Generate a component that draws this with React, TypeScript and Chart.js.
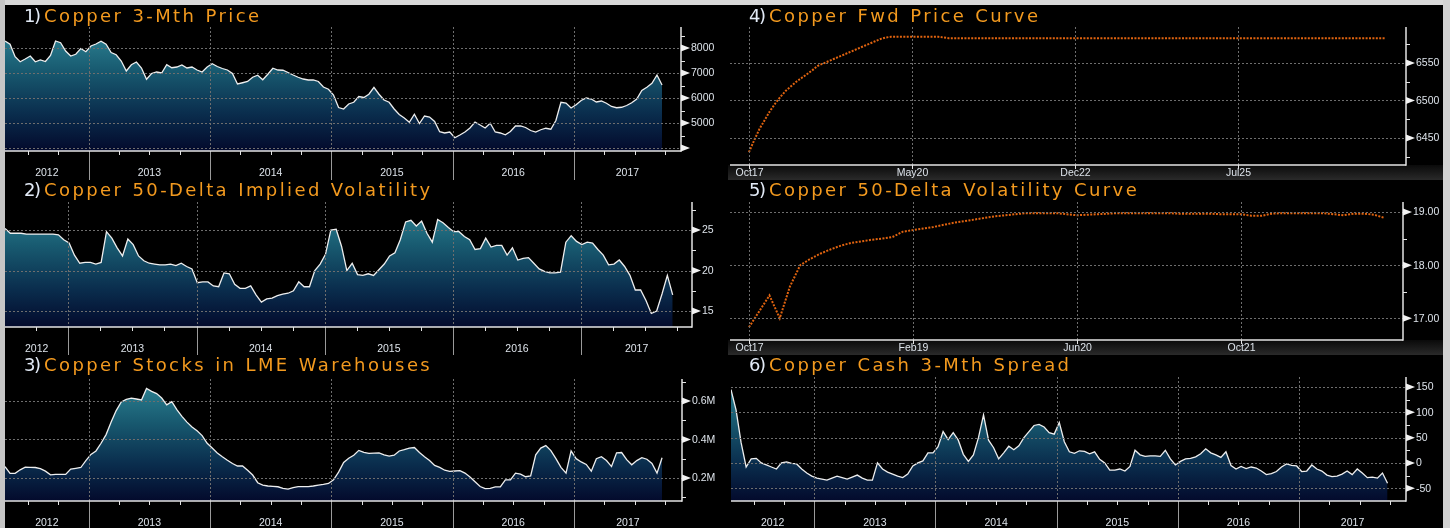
import React, { useEffect, useRef } from 'react';
import { Chart, registerables } from 'chart.js';

Chart.register(...registerables);

// ---------------- DATA ----------------
// Time-series panels: semi-monthly observations, first date given as decimal year.
const SEMI_MONTH = 1 / 24;

const yearLabels = ['2012', '2013', '2014', '2015', '2016', '2017'];

// 1) Copper 3-Mth Price (USD/t)
const priceStart = 2012.31;
const priceValues = [
  8280, 8150, 7650, 7450, 7560, 7680, 7450, 7520, 7460, 7700,
  8280, 8210, 7880, 7680, 7750, 7980, 7850, 8080, 8160, 8270,
  8150, 7820, 7730, 7480, 7080, 7330, 7440, 7200, 6750, 6980,
  7040, 7000, 7330, 7210, 7240, 7320, 7200, 7240, 7120, 7040,
  7240, 7370, 7260, 7180, 7120, 6980, 6560, 6610, 6660, 6830,
  6910, 6730, 6950, 7190, 7120, 7110, 7020, 6920, 6830, 6760,
  6720, 6720, 6660, 6440, 6350, 6120, 5620, 5560, 5760, 5830,
  6060, 6020, 6150, 6430, 6150, 5920, 5830, 5560, 5340, 5200,
  5030, 5350, 4980, 5280, 5240, 5060, 4650, 4600, 4640, 4410,
  4520, 4640, 4800, 5040, 4920, 4800, 4990, 4640, 4600, 4530,
  4660, 4880, 4880, 4820, 4700, 4640, 4730, 4790, 4750, 5100,
  5830, 5800, 5600, 5730, 5900, 6000, 5960, 5840, 5880, 5790,
  5660, 5610, 5630, 5700, 5810, 5960, 6300, 6430, 6590, 6920,
  6520,
];

// 2) Copper 50-Delta Implied Volatility (%)
const volStart = 2012.506;
const volValues = [
  25.2, 24.6, 24.6, 24.6, 24.5, 24.5, 24.5, 24.5, 24.5, 24.5,
  24.4, 23.8, 23.4, 21.9, 20.9, 21.0, 21.0, 20.8, 21.0, 24.8,
  24.0, 22.8, 21.8, 23.9, 23.2, 21.8, 21.2, 20.9, 20.8, 20.7,
  20.7, 20.8, 20.6, 20.9, 20.5, 20.2, 18.5, 18.6, 18.6, 18.1,
  18.0, 19.7, 19.6, 18.3, 17.8, 17.8, 18.1, 17.0, 16.1, 16.5,
  16.6, 16.9, 17.1, 17.2, 17.5, 18.6, 18.0, 18.0, 20.0, 20.8,
  22.0, 25.0, 25.1, 23.0, 20.0, 20.9, 19.5, 19.4, 19.6, 19.4,
  20.1, 20.8, 21.8, 22.2, 23.8, 26.0, 26.2, 25.5, 26.1, 24.6,
  23.5, 26.3, 25.9, 25.3, 24.8, 24.8, 24.2, 23.8, 22.6, 22.7,
  24.0, 22.9, 23.1, 23.1, 21.9, 22.8, 21.3, 21.5, 21.6, 20.9,
  20.2, 19.9, 19.7, 19.7, 19.8, 23.5, 24.3, 23.6, 23.2, 23.5,
  23.4, 22.6, 21.9, 20.7, 20.8, 21.3, 20.5, 19.4, 17.6, 17.6,
  16.3, 14.7, 15.0, 17.1, 19.4, 17.0,
];

// 3) Copper Stocks in LME Warehouses (million tonnes)
const stocksStart = 2012.31;
const stocksValues = [
  0.259, 0.224, 0.224, 0.242, 0.256, 0.255, 0.254, 0.248, 0.235, 0.216,
  0.218, 0.218, 0.218, 0.246, 0.250, 0.254, 0.290, 0.322, 0.340, 0.380,
  0.425, 0.490, 0.550, 0.595, 0.608, 0.615, 0.610, 0.605, 0.665, 0.650,
  0.638, 0.615, 0.580, 0.596, 0.555, 0.520, 0.490, 0.465, 0.445, 0.420,
  0.380, 0.355, 0.330, 0.310, 0.292, 0.275, 0.262, 0.262, 0.240, 0.215,
  0.175, 0.163, 0.158, 0.156, 0.154, 0.146, 0.142, 0.150, 0.155, 0.155,
  0.155, 0.158, 0.162, 0.166, 0.171, 0.190, 0.230, 0.280, 0.302, 0.318,
  0.343, 0.333, 0.328, 0.329, 0.330, 0.320, 0.313, 0.318, 0.340, 0.347,
  0.355, 0.358, 0.332, 0.310, 0.290, 0.265, 0.255, 0.240, 0.234, 0.236,
  0.238, 0.225, 0.205, 0.180, 0.155, 0.144, 0.146, 0.153, 0.153, 0.190,
  0.190, 0.225, 0.220, 0.206, 0.210, 0.320, 0.355, 0.368, 0.342, 0.300,
  0.255, 0.225, 0.340, 0.300, 0.283, 0.270, 0.235, 0.300, 0.310, 0.290,
  0.259, 0.330, 0.332, 0.295, 0.268, 0.290, 0.305, 0.297, 0.275, 0.225,
  0.305,
];

// 6) Copper Cash 3-Mth Spread (USD/t)
const spreadStart = 2012.313;
const spreadValues = [
  145, 105, 40, -8, 8, 9, 0, -4, -8, -12,
  0, 2, -1, -2, -12, -20, -26, -30, -32, -34,
  -30, -26, -29, -32, -28, -24, -30, -34, -34, 0,
  -12, -18, -22, -26, -29, -22, -6, 0, 4, 20,
  20, 32, 62, 46, 60, 45, 17, 3, 16, 50,
  95, 45, 30, 8, 20, 33, 26, 34, 50, 62,
  74, 76, 71, 60, 57, 80, 42, 22, 19, 24,
  23, 18, 22, 7, 0, -14, -14, -12, -16, -7,
  25, 16, 13, 14, 14, 13, 25, 8, -4, 3,
  8, 9, 12, 18, 28, 20, 16, 11, 22, -5,
  -12, -7, -11, -8, -10, -16, -23, -21, -17, -8,
  -2, -5, -6, -17, -16, -4, -12, -16, -24, -27,
  -26, -22, -16, -23, -12, -20, -29, -28, -30, -20,
  -40,
];

// 4) Copper Fwd Price Curve: monthly LME prompts from Oct17
const fwdTickLabels = ['Oct17', 'May20', 'Dec22', 'Jul25'];
const fwdTickMonths = [0, 31, 62, 93];
const fwdValues = [
  6431, 6447, 6462, 6474, 6486, 6496, 6505, 6513, 6519, 6525,
  6530, 6535, 6540, 6546, 6549, 6552, 6555, 6558, 6561, 6564,
  6567, 6570, 6573, 6576, 6579, 6582, 6584, 6585, 6585, 6585,
  6585, 6585, 6585, 6585, 6585, 6585, 6585, 6584, 6583, 6583,
  6583, 6583, 6583, 6583, 6583, 6583, 6583, 6583, 6583, 6583,
  6583, 6583, 6583, 6583, 6583, 6583, 6583, 6583, 6583, 6583,
  6583, 6583, 6583, 6583, 6583, 6583, 6583, 6583, 6583, 6583,
  6583, 6583, 6583, 6583, 6583, 6583, 6583, 6583, 6583, 6583,
  6583, 6583, 6583, 6583, 6583, 6583, 6583, 6583, 6583, 6583,
  6583, 6583, 6583, 6583, 6583, 6583, 6583, 6583, 6583, 6583,
  6583, 6583, 6583, 6583, 6583, 6583, 6583, 6583, 6583, 6583,
  6583, 6583, 6583, 6583, 6583, 6583, 6583, 6583, 6583, 6583,
  6583, 6583,
];

// 5) Copper 50-Delta Volatility Curve: monthly expiries from Oct17
const volCurveTickLabels = ['Oct17', 'Feb19', 'Jun20', 'Oct21'];
const volCurveTickMonths = [0, 16, 32, 48];
const volCurveValues = [
  16.83, 17.13, 17.43, 17.0, 17.6, 18.0, 18.12, 18.22, 18.3, 18.37,
  18.42, 18.45, 18.48, 18.5, 18.53, 18.63, 18.66, 18.69, 18.72, 18.76,
  18.8, 18.83, 18.86, 18.89, 18.92, 18.94, 18.96, 18.98, 18.98, 18.98,
  18.98, 18.96, 18.94, 18.95, 18.96, 18.97, 18.98, 18.98, 18.98, 18.98,
  18.98, 18.98, 18.97, 18.97, 18.97, 18.97, 18.96, 18.96, 18.96, 18.93,
  18.93, 18.97, 18.98, 18.98, 18.98, 18.98, 18.98, 18.96, 18.94, 18.97,
  18.97, 18.95, 18.89,
];

// ---------------- STYLE ----------------
const GRID = '#6e6e6e';
const AXIS = '#e4e4e4';
const LABEL = '#dde3ea';
const LONG_TICK = '#9a9a9a';
const CURVE = '#e0630f';
const LABEL_FONT = '10.5px "Liberation Sans", Arial, sans-serif';

type Box = { left: number; top: number; width: number; height: number };
type Pad = { left: number; top: number; right: number; bottom: number };
type PanelCfg = {
  key: string;
  num: string;
  title: string;
  box: Box;
  pad: Pad;
  kind: 'years' | 'months';
  xMin: number;
  xMax: number;
  yMin: number;
  yMax: number;
  yMajors: number[];
  yLabeled: number[];
  yMinors: number[];
  fmt: (v: number) => string;
  points: { x: number; y: number }[];
  curve?: boolean;
  xTicks?: number[];
  xTickLabels?: string[];
  titleLeft: number;
  titleTop: number;
};

const series = (start: number, values: number[]) =>
  values.map((v, i) => ({ x: start + i * SEMI_MONTH, y: v }));
const monthly = (values: number[]) => values.map((v, i) => ({ x: i, y: v }));

const PANELS: PanelCfg[] = [
  {
    key: 'p1', num: '1)', title: 'Copper 3-Mth Price',
    box: { left: 5, top: 5, width: 717, height: 175 },
    pad: { left: 0, top: 22, right: 41, bottom: 29 },
    kind: 'years', xMin: 2012.31, xMax: 2017.883,
    yMin: 3880, yMax: 8840,
    yMajors: [4000, 5000, 6000, 7000, 8000], yLabeled: [5000, 6000, 7000, 8000],
    yMinors: [4500, 5500, 6500, 7500, 8500],
    fmt: (v) => String(v),
    points: series(priceStart, priceValues),
    titleLeft: 24, titleTop: 5,
  },
  {
    key: 'p2', num: '2)', title: 'Copper 50-Delta Implied Volatility',
    box: { left: 5, top: 180, width: 717, height: 175 },
    pad: { left: 0, top: 22, right: 30, bottom: 28 },
    kind: 'years', xMin: 2012.506, xMax: 2017.865,
    yMin: 13.03, yMax: 28.46,
    yMajors: [15, 20, 25], yLabeled: [15, 20, 25],
    yMinors: [17.5, 22.5, 27.5],
    fmt: (v) => String(v),
    points: series(volStart, volValues),
    titleLeft: 24, titleTop: 179,
  },
  {
    key: 'p3', num: '3)', title: 'Copper Stocks in LME Warehouses',
    box: { left: 5, top: 355, width: 717, height: 173 },
    pad: { left: 0, top: 24, right: 40, bottom: 27 },
    kind: 'years', xMin: 2012.31, xMax: 2017.891,
    yMin: 0.08, yMax: 0.714,
    yMajors: [0.2, 0.4, 0.6], yLabeled: [0.2, 0.4, 0.6],
    yMinors: [0.1, 0.3, 0.5, 0.7],
    fmt: (v) => v.toFixed(1) + 'M',
    points: series(stocksStart, stocksValues),
    titleLeft: 24, titleTop: 354,
  },
  {
    key: 'p4', num: '4)', title: 'Copper Fwd Price Curve',
    box: { left: 728, top: 5, width: 715, height: 175 },
    pad: { left: 2, top: 22, right: 37, bottom: 15 },
    kind: 'months', xMin: -3.6, xMax: 124.9,
    yMin: 6414, yMax: 6598,
    yMajors: [6450, 6500, 6550], yLabeled: [6450, 6500, 6550],
    yMinors: [6425, 6475, 6525, 6575, 6600],
    fmt: (v) => String(v),
    points: monthly(fwdValues), curve: true,
    xTicks: fwdTickMonths, xTickLabels: fwdTickLabels,
    titleLeft: 749, titleTop: 5,
  },
  {
    key: 'p5', num: '5)', title: 'Copper 50-Delta Volatility Curve',
    box: { left: 728, top: 180, width: 715, height: 175 },
    pad: { left: 2, top: 22, right: 40, bottom: 15 },
    kind: 'months', xMin: -1.85, xMax: 63.8,
    yMin: 16.59, yMax: 19.19,
    yMajors: [17, 18, 19], yLabeled: [17, 18, 19],
    yMinors: [17.5, 18.5],
    fmt: (v) => v.toFixed(2),
    points: monthly(volCurveValues), curve: true,
    xTicks: volCurveTickMonths, xTickLabels: volCurveTickLabels,
    titleLeft: 749, titleTop: 179,
  },
  {
    key: 'p6', num: '6)', title: 'Copper Cash 3-Mth Spread',
    box: { left: 728, top: 355, width: 715, height: 173 },
    pad: { left: 3, top: 22, right: 37, bottom: 27 },
    kind: 'years', xMin: 2012.313, xMax: 2017.882,
    yMin: -75.2, yMax: 169.8,
    yMajors: [-50, 0, 50, 100, 150], yLabeled: [-50, 0, 50, 100, 150],
    yMinors: [-25, 25, 75, 125],
    fmt: (v) => String(v),
    points: series(spreadStart, spreadValues),
    titleLeft: 749, titleTop: 354,
  },
];

function makeDecor(cfg: PanelCfg) {
  return {
    id: 'decor_' + cfg.key,
    beforeDatasetsDraw(chart: any) {
      const { ctx, chartArea: a } = chart;
      if (cfg.kind === 'months') {
        const g = ctx.createLinearGradient(0, a.bottom, 0, chart.height);
        g.addColorStop(0, '#0a0a0a');
        g.addColorStop(1, '#2a2a2a');
        ctx.save();
        ctx.fillStyle = g;
        ctx.fillRect(0, a.bottom, chart.width, chart.height - a.bottom);
        ctx.restore();
      }
    },
    afterDatasetsDraw(chart: any) {
      const { ctx, chartArea: a } = chart;
      const x = chart.scales.x;
      const y = chart.scales.y;
      const H = chart.height;
      const L = (x1: number, y1: number, x2: number, y2: number) => {
        ctx.beginPath();
        ctx.moveTo(x1, y1);
        ctx.lineTo(x2, y2);
        ctx.stroke();
      };
      ctx.save();
      // dotted gridlines
      ctx.strokeStyle = GRID;
      ctx.lineWidth = 1;
      ctx.setLineDash([2, 2]);
      cfg.yMajors.forEach((v) => {
        const p = Math.round(y.getPixelForValue(v)) + 0.5;
        L(a.left, p, a.right, p);
      });
      let xGrid: number[] = [];
      if (cfg.kind === 'years') {
        for (let yr = Math.ceil(cfg.xMin); yr <= cfg.xMax; yr++) xGrid.push(yr);
      } else {
        xGrid = cfg.xTicks || [];
      }
      xGrid.forEach((v) => {
        const p = Math.round(x.getPixelForValue(v)) + 0.5;
        L(p, a.top, p, a.bottom);
      });
      ctx.setLineDash([]);

      // x ticks and labels
      ctx.font = LABEL_FONT;
      ctx.fillStyle = LABEL;
      ctx.textAlign = 'center';
      ctx.textBaseline = 'middle';
      if (cfg.kind === 'years') {
        const q0 = Math.ceil(cfg.xMin * 4);
        const q1 = Math.floor(cfg.xMax * 4);
        for (let q = q0; q <= q1; q++) {
          const p = Math.round(x.getPixelForValue(q / 4)) + 0.5;
          if (q % 4 === 0) {
            ctx.strokeStyle = LONG_TICK;
            ctx.lineWidth = 1;
            L(p, a.bottom, p, H);
          } else {
            ctx.strokeStyle = AXIS;
            ctx.lineWidth = 1;
            L(p, a.bottom, p, a.bottom + 4);
          }
        }
        yearLabels.forEach((lab) => {
          const yr = Number(lab);
          const s = Math.max(yr, cfg.xMin);
          const e = Math.min(yr + 1, cfg.xMax);
          if (e <= s) return;
          const cx = (x.getPixelForValue(s) + x.getPixelForValue(e)) / 2;
          ctx.fillText(lab, cx, a.bottom + 22);
        });
      } else {
        (cfg.xTicks || []).forEach((v, i) => {
          const p = Math.round(x.getPixelForValue(v)) + 0.5;
          ctx.strokeStyle = AXIS;
          ctx.lineWidth = 1;
          L(p, a.bottom, p, a.bottom + 4);
          ctx.fillText((cfg.xTickLabels || [])[i], p, a.bottom + 8.5);
        });
      }

      // axis lines
      ctx.strokeStyle = AXIS;
      ctx.lineWidth = 1.5;
      L(a.left, a.bottom, a.right, a.bottom);
      L(a.right, a.top, a.right, a.bottom + 0.75);

      // y minor ticks
      ctx.lineWidth = 1;
      cfg.yMinors.forEach((v) => {
        const p = Math.round(y.getPixelForValue(v)) + 0.5;
        if (p < a.top - 1 || p > a.bottom + 1) return;
        L(a.right, p, a.right + 4, p);
      });
      // y major markers + labels
      ctx.textAlign = 'left';
      cfg.yMajors.forEach((v) => {
        const p = y.getPixelForValue(v);
        ctx.fillStyle = '#f2f2f2';
        ctx.beginPath();
        ctx.moveTo(a.right, p - 3.5);
        ctx.lineTo(a.right, p + 3.5);
        ctx.lineTo(a.right + 9, p);
        ctx.closePath();
        ctx.fill();
        if (cfg.yLabeled.includes(v)) {
          ctx.fillStyle = LABEL;
          ctx.fillText(cfg.fmt(v), a.right + 10, p + 0.5);
        }
      });
      ctx.restore();
    },
  };
}

function PanelChart({ cfg }: { cfg: PanelCfg }) {
  const ref = useRef<HTMLCanvasElement>(null);
  useEffect(() => {
    const canvas = ref.current;
    if (!canvas) return;
    const dataset: any = cfg.curve
      ? {
          data: cfg.points,
          borderColor: CURVE,
          borderWidth: 2,
          borderDash: [2, 1.4],
          pointRadius: 0,
          fill: false,
          tension: 0,
        }
      : {
          data: cfg.points,
          borderColor: '#eeeeee',
          borderWidth: 1.3,
          pointRadius: 0,
          tension: 0,
          fill: 'start',
          backgroundColor: (c: any) => {
            const ch = c.chart;
            const a = ch.chartArea;
            if (!a) return 'rgba(0,0,0,0)';
            const g = ch.ctx.createLinearGradient(0, a.top, 0, a.bottom);
            g.addColorStop(0, '#2f8797');
            g.addColorStop(0.35, '#185a70');
            g.addColorStop(0.7, '#0a2d4d');
            g.addColorStop(1, '#030a2c');
            return g;
          },
        };
    const chart = new Chart(canvas, {
      type: 'line',
      data: { datasets: [dataset] },
      options: {
        animation: false,
        responsive: false,
        maintainAspectRatio: false,
        devicePixelRatio: 1,
        events: [],
        layout: { padding: cfg.pad },
        plugins: {
          legend: { display: false },
          tooltip: { enabled: false },
          title: { display: false },
        },
        scales: {
          x: { type: 'linear', display: false, min: cfg.xMin, max: cfg.xMax },
          y: { type: 'linear', display: false, min: cfg.yMin, max: cfg.yMax },
        },
      },
      plugins: [makeDecor(cfg)],
    } as any);
    return () => chart.destroy();
  }, [cfg]);
  return (
    <canvas
      ref={ref}
      width={cfg.box.width}
      height={cfg.box.height}
      style={{
        position: 'absolute',
        left: cfg.box.left,
        top: cfg.box.top,
        width: cfg.box.width,
        height: cfg.box.height,
      }}
    />
  );
}

function Title({ cfg }: { cfg: PanelCfg }) {
  const base: React.CSSProperties = {
    position: 'absolute',
    top: cfg.titleTop,
    fontFamily: '"DejaVu Sans", Verdana, sans-serif',
    fontSize: 18,
    lineHeight: '22px',
    whiteSpace: 'nowrap',
  };
  return (
    <>
      <span style={{ ...base, left: cfg.titleLeft, color: '#e2eaf6', letterSpacing: '-1.5px' }}>{cfg.num}</span>
      <span style={{ ...base, left: cfg.titleLeft + 20, color: '#f39a1f', letterSpacing: '2.4px', wordSpacing: '1px' }}>{cfg.title}</span>
    </>
  );
}

export default function App() {
  return (
    <div
      style={{
        position: 'fixed',
        left: 0,
        top: 0,
        width: 1450,
        height: 528,
        background: '#000',
        overflow: 'hidden',
      }}
    >
      <div style={{ position: 'absolute', left: 0, top: 0, width: 1450, height: 5, background: '#d8d8d8' }} />
      <div style={{ position: 'absolute', left: 0, top: 0, width: 5, height: 528, background: '#c6c6c6' }} />
      <div style={{ position: 'absolute', left: 1443, top: 0, width: 7, height: 528, background: '#d2d2d2' }} />
      {PANELS.map((p) => (
        <PanelChart key={p.key} cfg={p} />
      ))}
      {PANELS.map((p) => (
        <Title key={'t' + p.key} cfg={p} />
      ))}
    </div>
  );
}
